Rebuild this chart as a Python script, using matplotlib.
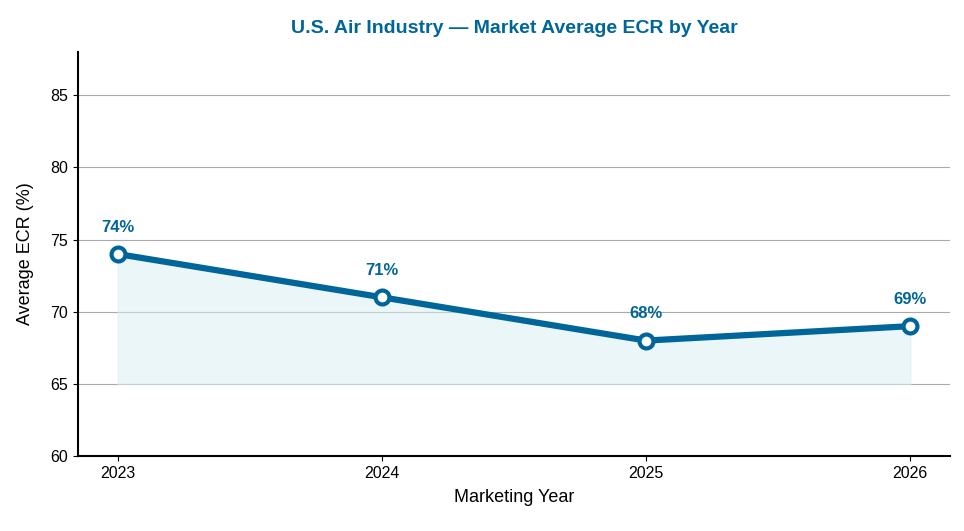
import matplotlib
matplotlib.use("Agg")
import matplotlib.pyplot as plt

years = [2023, 2024, 2025, 2026]
ecr = [74, 71, 68, 69]
labels = ["74%", "71%", "68%", "69%"]
yticks = [60, 65, 70, 75, 80, 85]

plt.rcParams['font.family'] = ['Liberation Sans', 'DejaVu Sans']
color = '#006699'

fig = plt.figure(figsize=(9.64, 5.31), dpi=100)
ax = fig.add_axes([78/964, 1-456/531, (950-78)/964, (456-52)/531])
ax.fill_between(years, 65, ecr, color='#d6eef2', alpha=0.5, zorder=1)
ax.plot(years, ecr, color=color, lw=4.5, marker='o', ms=10, mfc='white', mec=color, mew=3, zorder=3)
for x, y, t in zip(years, ecr, labels):
    ax.annotate(t, (x, y), xytext=(0, 14), textcoords='offset points', ha='center', va='bottom',
                color=color, fontweight='bold', fontsize=12)
ax.set_xlim(2022.85, 2026.15)
ax.set_ylim(60, 88)
ax.set_xticks(years)
ax.set_yticks(yticks)
ax.tick_params(labelsize=11.5)
ax.grid(axis='y', color='#aaaaaa', lw=0.8)
ax.set_axisbelow(True)
for s in ['top', 'right']:
    ax.spines[s].set_visible(False)
for s in ['left', 'bottom']:
    ax.spines[s].set_linewidth(1.5)
ax.set_xlabel('Marketing Year', fontsize=13, labelpad=6)
ax.set_ylabel('Average ECR (%)', fontsize=13, labelpad=12)
ax.set_title('U.S. Air Industry — Market Average ECR by Year', color=color, fontweight='bold', fontsize=14, pad=14)
fig.savefig('out.png', dpi=100)
